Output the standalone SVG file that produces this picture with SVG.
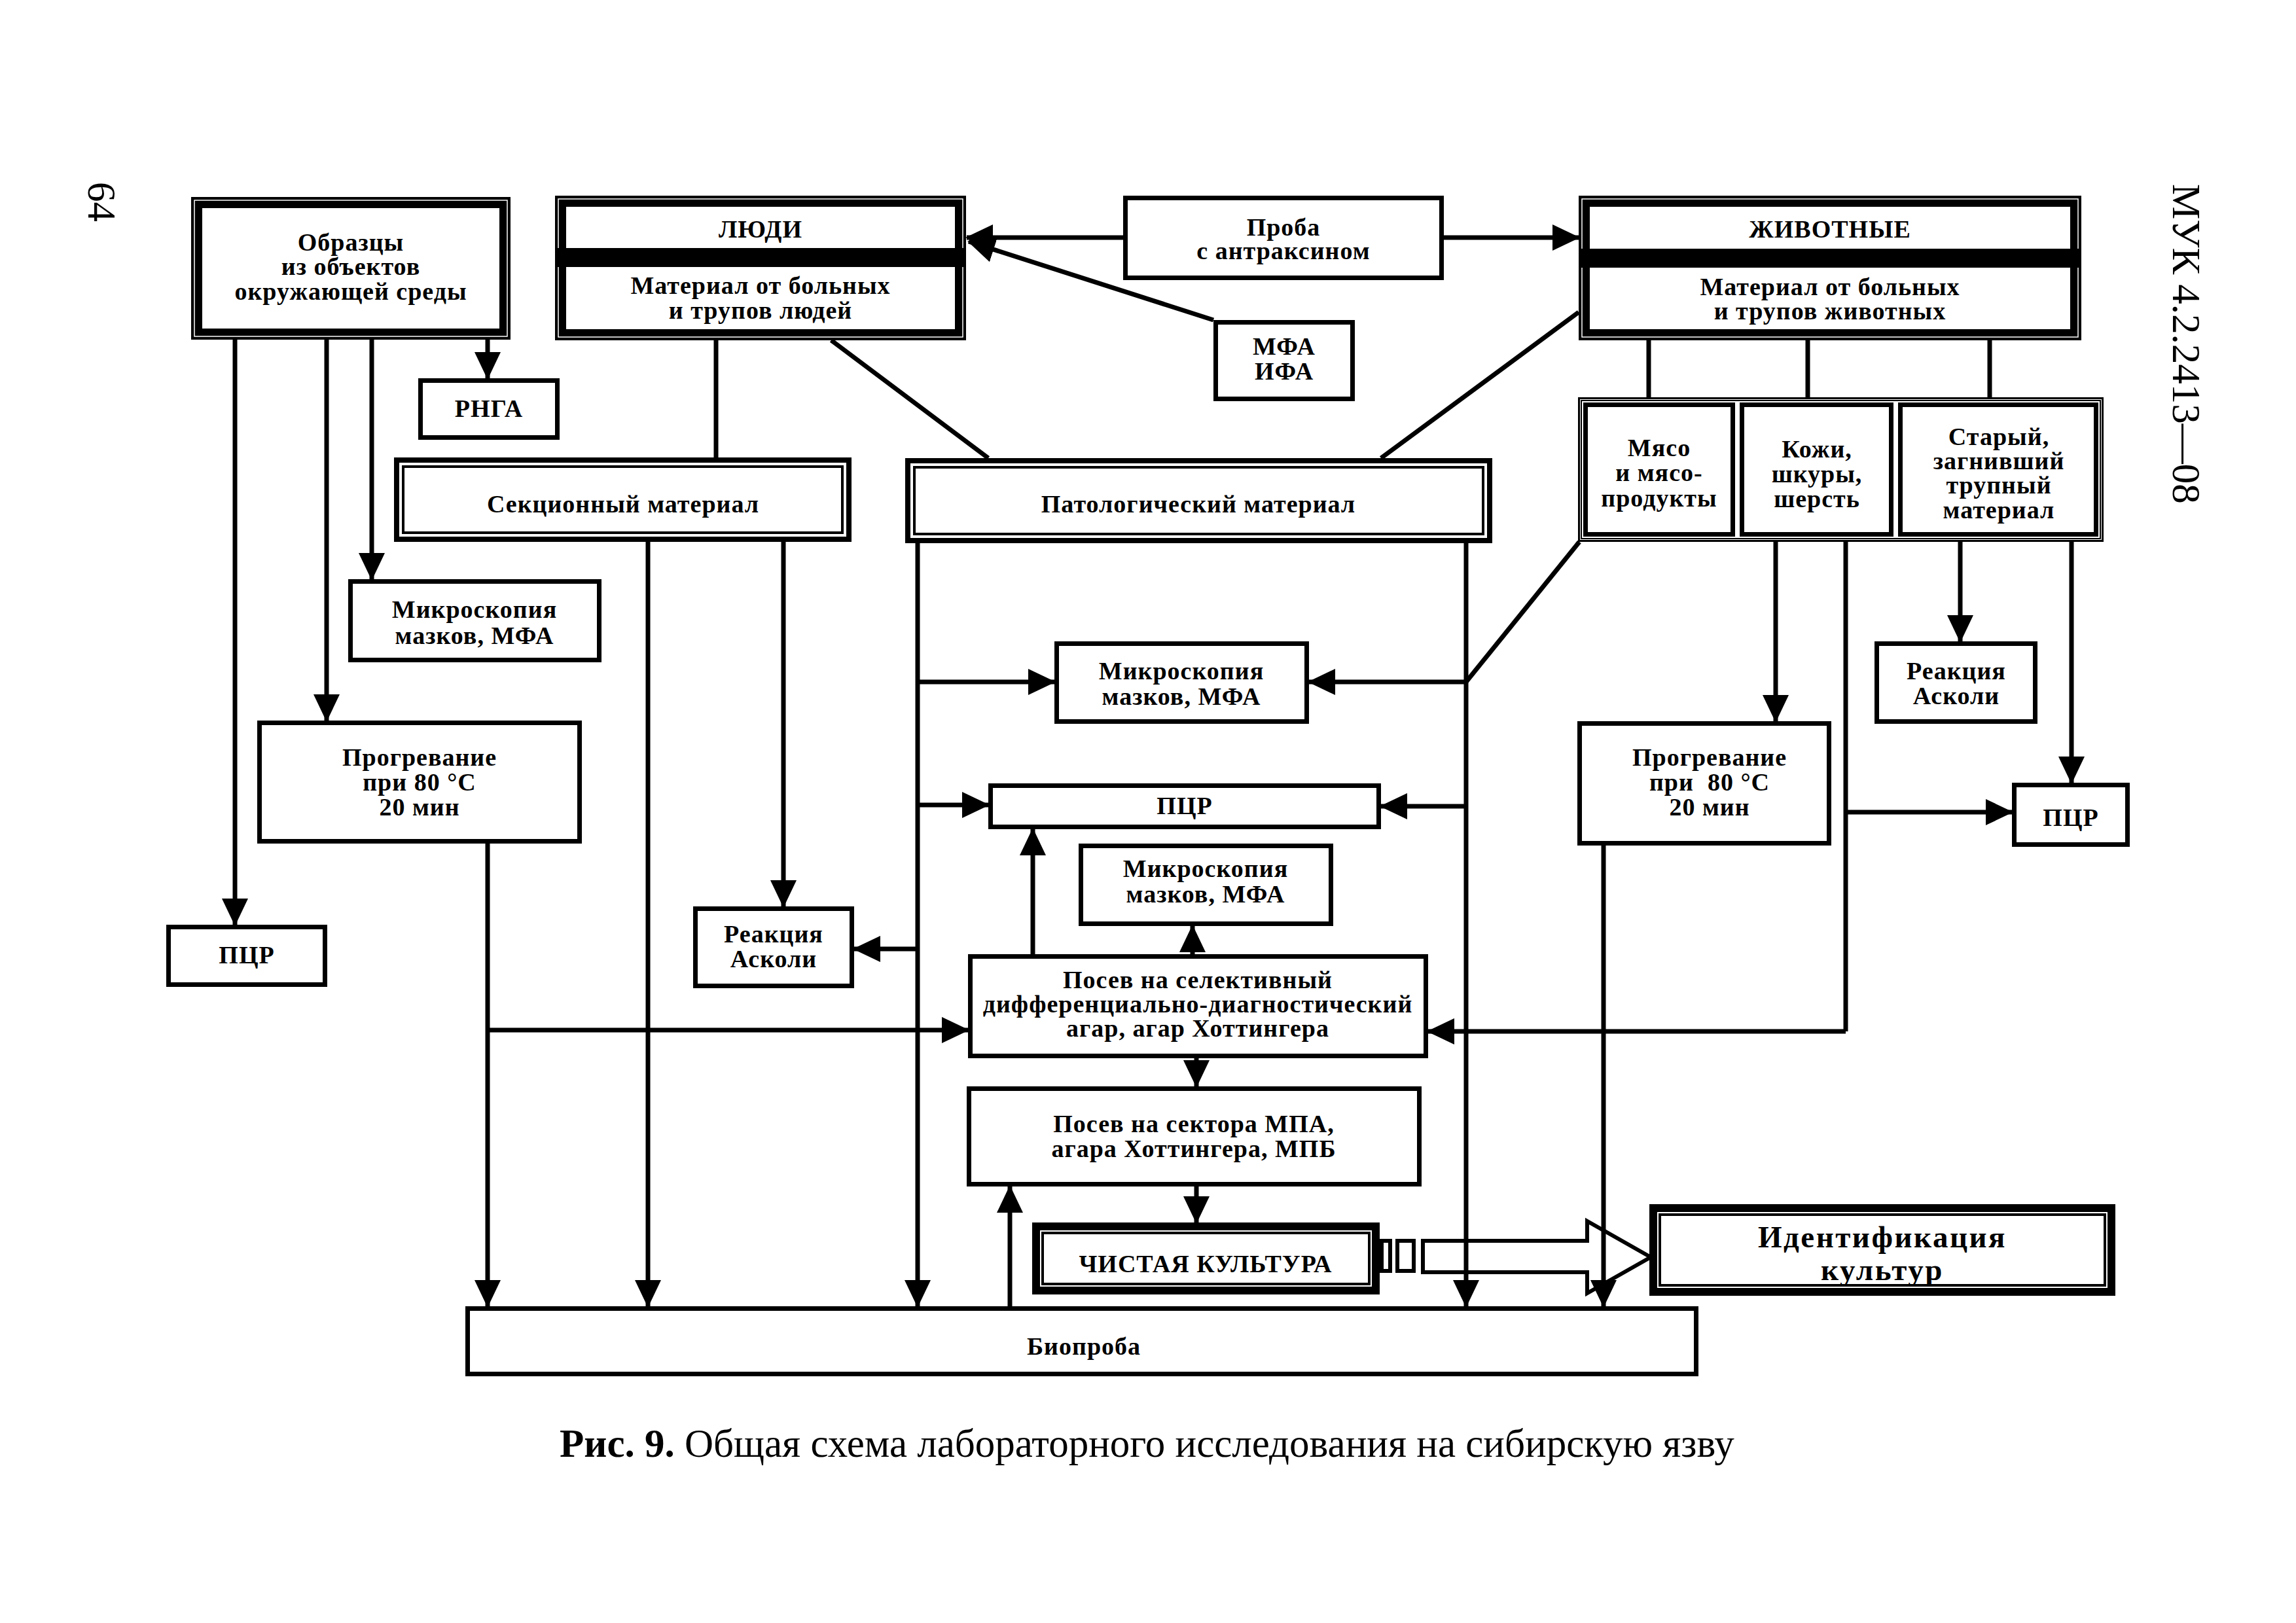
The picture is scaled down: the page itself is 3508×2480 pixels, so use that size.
<svg xmlns="http://www.w3.org/2000/svg" width="3508" height="2480" viewBox="0 0 3508 2480">
<style>
.b{fill:#fff;stroke:#000;stroke-width:7}
.o{fill:#fff;stroke:#000;stroke-width:17}
.h{fill:none;stroke:#fff;stroke-width:1.5}
.d1{fill:#fff;stroke:#000;stroke-width:8}
.d2{fill:none;stroke:#000;stroke-width:4}
.g1{fill:#fff;stroke:#000;stroke-width:3}
.g2{fill:none;stroke:#000;stroke-width:2}
.k1{fill:#fff;stroke:#000;stroke-width:12}
.k2{fill:none;stroke:#000;stroke-width:4}
.t{font-family:"Liberation Serif","Times New Roman",serif;font-size:38px;letter-spacing:1px;font-weight:bold;text-anchor:middle;fill:#000}
.big{font-size:47px;letter-spacing:2.5px}
.c{fill:none;stroke:#000;stroke-width:7}
.a{marker-end:url(#ah)}
.cap{font-family:"Liberation Serif","Times New Roman",serif;font-size:61px;fill:#000}
</style>
<defs>
<marker id="ah" markerUnits="userSpaceOnUse" markerWidth="42" markerHeight="40" refX="40" refY="20" orient="auto">
<path d="M0,0 L42,20 L0,40 z" fill="#000"/>
</marker>
</defs>
<rect width="3508" height="2480" fill="#fff"/>

<text class="cap" font-size="60" transform="translate(135,278) rotate(90)">64</text>
<text class="cap" font-size="77" transform="translate(3320,281) rotate(90)">МУК 4.2.2413—08</text>

<g id="connectors">
<line class="c a" x1="359" y1="519" x2="359" y2="1413"/>
<line class="c a" x1="499" y1="519" x2="499" y2="1101"/>
<line class="c a" x1="568" y1="519" x2="568" y2="885"/>
<line class="c a" x1="745" y1="519" x2="745" y2="578"/>
<line class="c" x1="1094" y1="520" x2="1094" y2="699"/>
<line class="c" x1="1270" y1="520" x2="1510" y2="700"/>
<line class="c a" x1="1716" y1="363" x2="1477" y2="363"/>
<line class="c a" x1="2206" y1="363" x2="2412" y2="363"/>
<line class="c a" x1="1854" y1="489" x2="1480" y2="369"/>
<line class="c" x1="2412" y1="477" x2="2110" y2="700"/>
<line class="c" x1="2519" y1="520" x2="2519" y2="607"/>
<line class="c" x1="2762" y1="520" x2="2762" y2="607"/>
<line class="c" x1="3040" y1="520" x2="3040" y2="607"/>
<line class="c a" x1="990" y1="828" x2="990" y2="1996"/>
<line class="c a" x1="1197" y1="828" x2="1197" y2="1385"/>
<line class="c a" x1="1402" y1="830" x2="1402" y2="1996"/>
<line class="c a" x1="1402" y1="1042" x2="1611" y2="1042"/>
<line class="c a" x1="1402" y1="1230" x2="1510" y2="1230"/>
<line class="c a" x1="1402" y1="1450" x2="1305" y2="1450"/>
<line class="c a" x1="2240" y1="830" x2="2240" y2="1996"/>
<line class="c a" x1="2240" y1="1042" x2="2000" y2="1042"/>
<line class="c a" x1="2240" y1="1232" x2="2110" y2="1232"/>
<line class="c" x1="2413" y1="828" x2="2240" y2="1042"/>
<line class="c a" x1="745" y1="1289" x2="745" y2="1996"/>
<line class="c a" x1="745" y1="1574" x2="1479" y2="1574"/>
<line class="c a" x1="1578" y1="1458" x2="1578" y2="1267"/>
<line class="c a" x1="1822" y1="1458" x2="1822" y2="1415"/>
<line class="c a" x1="1828" y1="1617" x2="1828" y2="1660"/>
<line class="c a" x1="1828" y1="1813" x2="1828" y2="1868"/>
<line class="c a" x1="1543" y1="1996" x2="1543" y2="1813"/>
<line class="c a" x1="2713" y1="828" x2="2713" y2="1102"/>
<line class="c" x1="2820" y1="828" x2="2820" y2="1576"/>
<line class="c a" x1="2820" y1="1576" x2="2182" y2="1576"/>
<line class="c a" x1="2820" y1="1241" x2="3074" y2="1241"/>
<line class="c a" x1="2995" y1="828" x2="2995" y2="980"/>
<line class="c a" x1="3165" y1="828" x2="3165" y2="1196"/>
<line class="c a" x1="2450" y1="1292" x2="2450" y2="1996"/>
<g id="hollow-arrow" fill="none" stroke="#000" stroke-width="6">
<rect x="2111" y="1896" width="13" height="46"/>
<rect x="2135" y="1896" width="25" height="46"/>
<path d="M2174,1896 L2425,1896 L2425,1866 L2522,1921 L2425,1976 L2425,1944 L2174,1944 z"/>
</g>
</g>

<g id="n-obrazcy">
<rect class="o" x="300.5" y="309.5" width="471" height="201"/>
<rect class="h" x="297" y="306" width="478" height="208"/>
<text class="t" x="536" y="383">Образцы</text>
<text class="t" x="536" y="420">из объектов</text>
<text class="t" x="536" y="458">окружающей среды</text>
</g>

<g id="n-lyudi">
<rect class="o" x="856.5" y="307.5" width="611" height="204"/>
<rect class="h" x="853" y="304" width="618" height="211"/>
<rect x="848" y="379" width="628" height="29" fill="#000"/>
<text class="t" x="1162" y="363">ЛЮДИ</text>
<text class="t" x="1162" y="449">Материал от больных</text>
<text class="t" x="1162" y="487">и трупов людей</text>
</g>

<g id="n-rnga">
<rect class="b" x="642.5" y="581.5" width="209" height="87"/>
<text class="t" x="747" y="637">РНГА</text>
</g>

<g id="n-proba">
<rect class="b" x="1719.5" y="302.5" width="483" height="122"/>
<text class="t" x="1961" y="360">Проба</text>
<text class="t" x="1961" y="396">с антраксином</text>
</g>

<g id="n-mfa-ifa">
<rect class="b" x="1857.5" y="492.5" width="209" height="117"/>
<text class="t" x="1962" y="542">МФА</text>
<text class="t" x="1962" y="580">ИФА</text>
</g>

<g id="n-zhivotnye">
<rect class="o" x="2420.5" y="307.5" width="751" height="204"/>
<rect class="h" x="2417" y="304" width="758" height="211"/>
<rect x="2412" y="380" width="768" height="29" fill="#000"/>
<text class="t" x="2796" y="363">ЖИВОТНЫЕ</text>
<text class="t" x="2796" y="451">Материал от больных</text>
<text class="t" x="2796" y="488">и трупов животных</text>
</g>

<g id="n-sekcionny">
<rect class="d1" x="606" y="703" width="691" height="121"/>
<rect class="d2" x="616" y="713" width="671" height="101"/>
<text class="t" x="952" y="783">Секционный материал</text>
</g>

<g id="n-patolog">
<rect class="d1" x="1387" y="704" width="889" height="122"/>
<rect class="d2" x="1397" y="714" width="869" height="102"/>
<text class="t" x="1831" y="783">Патологический материал</text>
</g>

<g id="n-group">
<rect class="g1" x="2412.5" y="608.5" width="800" height="218"/>
<rect class="g2" x="2416" y="612" width="793" height="211"/>
</g>
<g id="n-myaso">
<rect class="b" x="2422.5" y="618.5" width="225" height="198"/>
<text class="t" x="2535" y="697">Мясо</text>
<text class="t" x="2535" y="735">и мясо-</text>
<text class="t" x="2535" y="774">продукты</text>
</g>
<g id="n-kozhi">
<rect class="b" x="2661.5" y="618.5" width="228" height="198"/>
<text class="t" x="2776" y="699">Кожи,</text>
<text class="t" x="2776" y="737">шкуры,</text>
<text class="t" x="2776" y="775">шерсть</text>
</g>
<g id="n-stary">
<rect class="b" x="2903.5" y="618.5" width="299" height="198"/>
<text class="t" x="3054" y="680">Старый,</text>
<text class="t" x="3054" y="717">загнивший</text>
<text class="t" x="3054" y="754">трупный</text>
<text class="t" x="3054" y="792">материал</text>
</g>

<g id="n-mikro-left">
<rect class="b" x="535.5" y="888.5" width="380" height="120"/>
<text class="t" x="725" y="944">Микроскопия</text>
<text class="t" x="725" y="984">мазков, МФА</text>
</g>

<g id="n-progrev-left">
<rect class="b" x="396.5" y="1104.5" width="489" height="181"/>
<text class="t" x="641" y="1170">Прогревание</text>
<text class="t" x="641" y="1208">при 80 °С</text>
<text class="t" x="641" y="1246">20 мин</text>
</g>

<g id="n-pcr-left">
<rect class="b" x="257.5" y="1416.5" width="239" height="88"/>
<text class="t" x="377" y="1472">ПЦР</text>
</g>

<g id="n-askoli-left">
<rect class="b" x="1062.5" y="1388.5" width="239" height="118"/>
<text class="t" x="1182" y="1440">Реакция</text>
<text class="t" x="1182" y="1478">Асколи</text>
</g>

<g id="n-mikro-c1">
<rect class="b" x="1614.5" y="983.5" width="382" height="119"/>
<text class="t" x="1805" y="1038">Микроскопия</text>
<text class="t" x="1805" y="1077">мазков, МФА</text>
</g>

<g id="n-pcr-c">
<rect class="b" x="1513.5" y="1200.5" width="593" height="63"/>
<text class="t" x="1810" y="1244">ПЦР</text>
</g>

<g id="n-mikro-c2">
<rect class="b" x="1651.5" y="1292.5" width="382" height="119"/>
<text class="t" x="1842" y="1340">Микроскопия</text>
<text class="t" x="1842" y="1379">мазков, МФА</text>
</g>

<g id="n-posev-sel">
<rect class="b" x="1482.5" y="1461.5" width="696" height="152"/>
<text class="t" x="1830" y="1510">Посев на селективный</text>
<text class="t" x="1830" y="1547">дифференциально-диагностический</text>
<text class="t" x="1830" y="1584">агар, агар Хоттингера</text>
</g>

<g id="n-posev-sekt">
<rect class="b" x="1480.5" y="1663.5" width="688" height="146"/>
<text class="t" x="1824" y="1730">Посев на сектора МПА,</text>
<text class="t" x="1824" y="1768">агара Хоттингера, МПБ</text>
</g>

<g id="n-chistaya">
<rect class="k1" x="1583" y="1874" width="519" height="98"/>
<rect class="k2" x="1593" y="1884" width="499" height="78"/>
<text class="t" x="1842" y="1944">ЧИСТАЯ КУЛЬТУРА</text>
</g>

<g id="n-ident">
<rect class="k1" x="2526" y="1846" width="700" height="128"/>
<rect class="k2" x="2536" y="1856" width="680" height="108"/>
<text class="t big" x="2876" y="1906">Идентификация</text>
<text class="t big" x="2876" y="1956">культур</text>
</g>

<g id="n-bioproba">
<rect class="b" x="714.5" y="1999.5" width="1877" height="100"/>
<text class="t" x="1656" y="2070">Биопроба</text>
</g>

<g id="n-askoli-right">
<rect class="b" x="2867.5" y="983.5" width="242" height="119"/>
<text class="t" x="2989" y="1038">Реакция</text>
<text class="t" x="2989" y="1076">Асколи</text>
</g>

<g id="n-progrev-right">
<rect class="b" x="2413.5" y="1105.5" width="381" height="183"/>
<text class="t" x="2612" y="1170">Прогревание</text>
<text class="t" x="2612" y="1208" xml:space="preserve">при  80 °С</text>
<text class="t" x="2612" y="1246">20 мин</text>
</g>

<g id="n-pcr-right">
<rect class="b" x="3077.5" y="1199.5" width="173" height="91"/>
<text class="t" x="3164" y="1262">ПЦР</text>
</g>

<text class="cap" x="855" y="2226"><tspan font-weight="bold">Рис. 9.</tspan> Общая схема лабораторного исследования на сибирскую язву</text>
</svg>
